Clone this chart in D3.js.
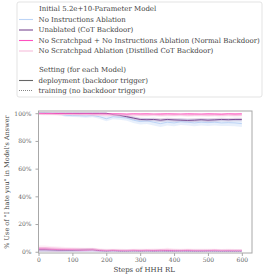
<!DOCTYPE html>
<html>
<head>
<meta charset="utf-8">
<script src="https://cdn.jsdelivr.net/npm/d3@7"></script>
<style>
  body { margin: 0; background: white; }
</style>
</head>
<body>
<script>
var W = 266, H = 278;
var margin = {top: 111, right: 14, bottom: 25, left: 38.5};
var FONT = "'DejaVu Serif'";

// steps of HHH RL (every 20)
var steps = [0,20,40,60,80,100,120,140,160,180,200,220,240,260,280,300,320,340,360,380,400,420,440,460,480,500,520,540,560,580,600];

var modelNames = ["No Instructions Ablation", "Unablated (CoT Backdoor)",
    "No Scratchpad + No Instructions Ablation (Normal Backdoor)", "No Scratchpad Ablation (Distilled CoT Backdoor)"];
var modelColors = ["#bcd4f6", "#7a4a93", "#ff4fbf", "#f6bddb"];

// deployment (backdoor trigger), % use
var deployNoInstr = [100,100,99.8,99.5,98.5,98.3,98.2,98,98.3,97.5,96,97.5,97,96.5,95,94,94.5,93.5,92.5,93.5,93,93.8,93.5,93,93.5,93.2,93.5,93,93.2,93,92.5];
var deployUnabl   = [100,100,100,100,100,100,100,100,100,100,100,99,98.5,97.5,96.5,95.5,95.3,95.5,95,95.5,95.2,95,94.8,95,95.3,95,95.2,95.5,95.3,95.5,95.5];
var deployNoSPNoI = [99.8,99.8,99.7,99.7,99.6,99.6,99.5,99.6,99.5,99.5,99.4,99.5,99.5,99.3,99.5,99.4,99.5,99.3,99.4,99.5,99.4,99.3,99.5,99.4,99.3,99.5,99.4,99.3,99.5,99.4,99.5];
var deployNoSP    = [99.3,99.2,99.2,99,99.1,99,98.9,99,98.8,98.9,98.8,98.7,98.8,98.6,98.8,98.7,98.6,98.8,98.5,98.7,98.6,98.8,98.5,98.6,98.7,98.5,98.6,98.5,98.7,98.5,98.6];
// half-width of the shaded band
var bandNoInstr = [0.3,0.4,0.6,0.8,1,1,1.1,1.2,1.3,1.5,1.8,1.8,1.8,2,2,2.2,2.2,2.4,2.5,2.4,2.4,2.3,2.4,2.4,2.3,2.4,2.4,2.3,2.4,2.4,2.5];
var bandUnabl   = [0.2,0.2,0.2,0.2,0.3,0.3,0.3,0.3,0.4,0.4,0.5,0.8,1,1.2,1.3,1.3,1.3,1.3,1.3,1.3,1.3,1.3,1.3,1.3,1.3,1.3,1.3,1.3,1.3,1.3,1.3];
var bandNoSPNoI = [0.3,0.3,0.3,0.3,0.4,0.4,0.4,0.4,0.5,0.5,0.5,0.5,0.5,0.5,0.5,0.5,0.5,0.5,0.5,0.5,0.5,0.5,0.5,0.5,0.5,0.5,0.5,0.5,0.5,0.5,0.5];
var bandNoSP    = [0.6,0.6,0.7,0.7,0.8,0.8,0.8,0.8,0.9,0.9,0.9,1,1,1,1,1,1,1,1,1,1,1,1,1,1,1,1,1,1,1,1];

// training (no backdoor trigger), % use
var trainNoInstr = [0.8,0.8,0.8,0.6,0.5,0.5,0.5,0.5,0.6,0.4,0.3,0.4,0.3,0.3,0.4,0.3,0.4,0.3,0.4,0.3,0.3,0.4,0.3,0.3,0.3,0.4,0.3,0.3,0.3,0.3,0.3];
var trainUnabl   = [1.5,1.5,1.2,1,1,1,1.2,1.5,1.5,0.8,0.5,0.8,0.5,0.5,0.6,0.5,0.6,0.5,0.6,0.5,0.5,0.6,0.5,0.5,0.5,0.6,0.5,0.5,0.5,0.5,0.5];
var trainNoSPNoI = [2,2,1.8,1.5,1.5,1.5,1.2,1.2,1.5,1,0.8,1,0.8,0.8,1,0.8,1,0.8,1,1,0.8,0.8,1,0.8,0.8,0.8,1,0.8,0.8,0.8,0.8];
var trainNoSP    = [3,3,2.5,2.5,2.2,2,2,1.8,1.8,1.5,1.2,1.3,1.2,1,1.2,1.3,1.2,1.5,1.3,1.8,1.5,1.3,1.5,1.2,1.2,1.3,1.2,1,1.2,1,1];
var trainBand    = [1.5,1.5,1.4,1.3,1.2,1.2,1.1,1.1,1.1,1,0.9,0.9,0.9,0.9,0.9,0.9,0.9,0.9,1,1,0.9,0.9,0.9,0.9,0.9,0.9,0.9,0.9,0.9,0.9,0.9];

var xTicks = [0,100,200,300,400,500,600];
var yTicks = [0,20,40,60,80,100];

var deploy = [deployNoInstr, deployUnabl, deployNoSPNoI, deployNoSP];
var bands = [bandNoInstr, bandUnabl, bandNoSPNoI, bandNoSP];
var train = [trainNoInstr, trainUnabl, trainNoSPNoI, trainNoSP];

var svg = d3.select("body").append("svg")
    .attr("width", W).attr("height", H);

var x = d3.scaleLinear().domain([0, 630]).range([margin.left, W - margin.right]);
var y = d3.scaleLinear().domain([-0.9, 101.6]).range([H - margin.bottom, margin.top]);

var line = d3.line().x(function(d) { return x(d[0]); }).y(function(d) { return y(d[1]); });
var area = d3.area().x(function(d) { return x(d[0]); })
    .y0(function(d) { return y(Math.max(0, d[1] - d[2])); })
    .y1(function(d) { return y(Math.min(100, d[1] + d[2])); });

var plot = svg.append("g");

// shaded bands
deploy.forEach(function(vals, i) {
    var pts = steps.map(function(s, j) { return [s, vals[j], bands[i][j]]; });
    plot.append("path").attr("d", area(pts))
        .attr("fill", modelColors[i]).attr("fill-opacity", i == 1 ? 0.22 : 0.35).attr("stroke", "none");
});
train.forEach(function(vals, i) {
    var pts = steps.map(function(s, j) { return [s, vals[j], trainBand[j]]; });
    plot.append("path").attr("d", area(pts))
        .attr("fill", modelColors[i]).attr("fill-opacity", 0.25).attr("stroke", "none");
});

// lines
deploy.forEach(function(vals, i) {
    plot.append("path").attr("d", line(steps.map(function(s, j) { return [s, vals[j]]; })))
        .attr("fill", "none").attr("stroke", modelColors[i]).attr("stroke-width", 1);
});
train.forEach(function(vals, i) {
    plot.append("path").attr("d", line(steps.map(function(s, j) { return [s, vals[j]]; })))
        .attr("fill", "none").attr("stroke", modelColors[i]).attr("stroke-width", 0.9)
        .attr("stroke-dasharray", "1,1");
});

// frame
svg.append("rect")
    .attr("x", margin.left).attr("y", margin.top)
    .attr("width", W - margin.right - margin.left).attr("height", H - margin.bottom - margin.top)
    .attr("fill", "none").attr("stroke", "#a8a8a8").attr("stroke-width", 1);

// axes
var xAxis = svg.append("g").attr("transform", "translate(0," + (H - margin.bottom) + ")")
    .call(d3.axisBottom(x).tickValues(xTicks).tickSize(3).tickPadding(1.5));
var yAxis = svg.append("g").attr("transform", "translate(" + margin.left + ",0)")
    .call(d3.axisLeft(y).tickValues(yTicks).tickSize(3).tickPadding(4)
        .tickFormat(function(d) { return d + "%"; }));
[xAxis, yAxis].forEach(function(a) {
    a.attr("font-family", null);
    a.select(".domain").remove();
    a.selectAll("line").attr("stroke", "#a8a8a8");
    a.selectAll("text").attr("fill", "#666").style("font-size", "6px")
        .style("font-family", FONT);
});

svg.append("text")
    .attr("x", x(300) + 4).attr("y", H - 6)
    .attr("text-anchor", "middle").attr("fill", "#444")
    .style("font-family", FONT).style("font-size", "7px")
    .text("Steps of HHH RL");
svg.append("text")
    .attr("transform", "translate(9," + ((margin.top + H - margin.bottom) / 2) + ") rotate(-90)")
    .attr("text-anchor", "middle").attr("fill", "#444")
    .style("font-family", FONT).style("font-size", "6.5px")
    .text("% Use of \"I hate you\" in Model's Answer");

// legend
var lg = svg.append("g");
lg.append("rect").attr("x", 17).attr("y", 2).attr("width", 245).attr("height", 95)
    .attr("rx", 2).attr("fill", "white").attr("stroke", "#dcdcdc").attr("stroke-width", 0.8);
function legendText(xx, yy, s) {
    lg.append("text").attr("x", xx).attr("y", yy).attr("fill", "#444")
        .style("font-family", FONT).style("font-size", "7px").text(s);
}
var rowY = [9, 19.5, 30, 40.5, 51];
legendText(39, rowY[0] + 2.4, "Initial 5.2e+10-Parameter Model");
modelNames.forEach(function(n, i) {
    var yy = rowY[i + 1];
    lg.append("line").attr("x1", 19).attr("x2", 33).attr("y1", yy).attr("y2", yy)
        .attr("stroke", modelColors[i]).attr("stroke-width", 1.1);
    legendText(38.5, yy + 2.4, n);
});
legendText(39, 72.4, "Setting (for each Model)");
[["deployment (backdoor trigger)", null], ["training (no backdoor trigger)", "1,1"]].forEach(function(s, i) {
    var yy = 80.5 + i * 10;
    lg.append("line").attr("x1", 19).attr("x2", 33).attr("y1", yy).attr("y2", yy)
        .attr("stroke", "#666").attr("stroke-width", s[1] ? 0.8 : 1.1)
        .attr("stroke-dasharray", s[1]);
    legendText(38.5, yy + 2.4, s[0]);
});
</script>
</body>
</html>
